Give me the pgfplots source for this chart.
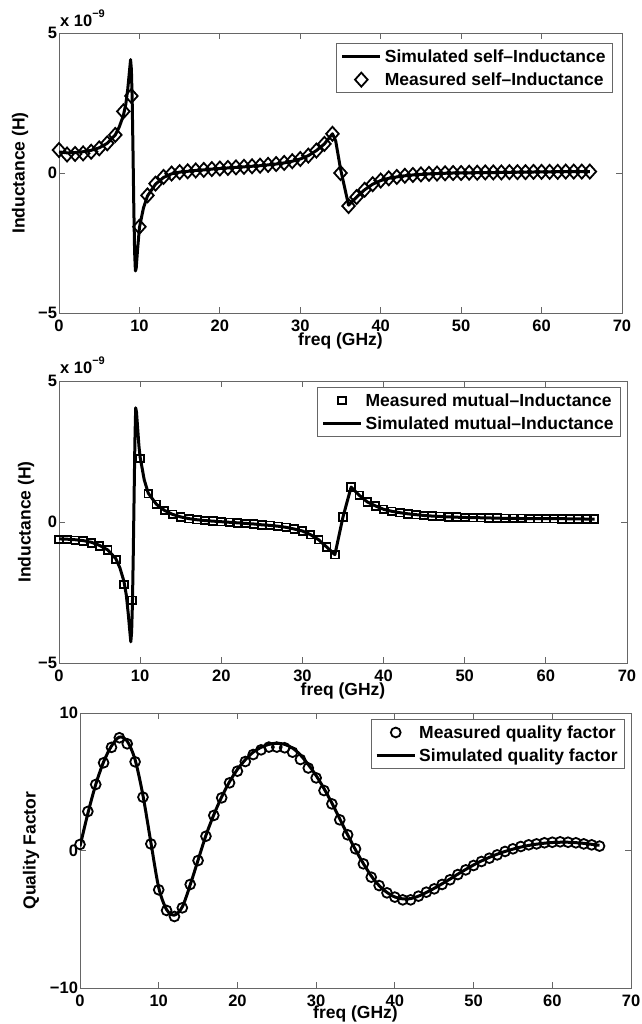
\documentclass[border=0pt]{standalone}
\usepackage{fontspec}
\setmainfont{Liberation Sans}
\usepackage{pgfplots}
\pgfplotsset{compat=1.18}
\definecolor{axgray}{gray}{0.4}

\pgfplotsset{
  matfig/.style={
    scale only axis,
    clip mode=individual,
    anchor=south west,
    xmin=0, xmax=70,
    xtick={0,10,...,70},
    xticklabels={0,10,20,30,40,50,60,70},
    tick align=inside,
    major tick length=6pt,
    axis line style={axgray, line width=0.8pt},
    tick style={axgray, line width=0.8pt},
    font=\bfseries\fontsize{17.5}{20}\selectfont,
    tick label style={font=\bfseries\fontsize{16.5}{19}\selectfont},
    x tick label style={yshift=-3pt},
    y tick label style={xshift=1.5pt},
    xlabel={freq (GHz)},
    xlabel style={at={(axis description cs:0.5,0)}, anchor=north, inner sep=0pt, yshift=-20pt},
    legend cell align=left,
    legend style={draw=axgray, line width=0.8pt, anchor=north east,
      inner xsep=4pt, inner ysep=2pt, row sep=1pt,
      nodes={inner xsep=3pt, inner ysep=4pt}},
  },
  simline/.style={black, line width=3pt, line join=round,
    legend image code/.code={\draw[##1] (0pt,0pt) -- (38pt,0pt);}},
  meas/.style={black, only marks, mark=#1, line width=1.8pt,
    legend image code/.code={\draw[mark repeat=2, mark phase=2, ##1] plot coordinates {(0pt,0pt) (19pt,0pt) (38pt,0pt)};}},
}

\begin{document}
\begin{tikzpicture}
\useasboundingbox (0pt,0pt) rectangle (641pt,1024pt);

% self inductance
\begin{axis}[matfig, at={(59pt,711pt)}, width=563pt, height=280pt,
  ymin=-5, ymax=5, ytick={-5,0,5}, yticklabels={−5,0,5},
  ylabel={Inductance (H)},
  ylabel style={at={(axis description cs:-0.0693,0.5)}, anchor=center, inner sep=0pt},
  legend style={at={(axis description cs:1,1)}, xshift=-9pt, yshift=-10pt}]
\addplot[simline] coordinates {
(0,0.75) (1,0.72) (2,0.73) (3,0.76) (4,0.81) (5,0.90) (6,1.06) (7,1.36)
(7.5,1.65) (8,2.05) (8.3,2.45) (8.55,3.0) (8.75,3.6) (8.9,4.05) (9.0,3.7)
(9.1,2.6) (9.2,0.8) (9.3,-1.2) (9.4,-2.8) (9.5,-3.5) (9.6,-3.4) (9.75,-2.8)
(10,-1.95) (10.5,-1.25) (11,-0.82) (12,-0.40) (13,-0.16) (14,-0.03) (15,0.03)
(16,0.06) (17,0.09) (18,0.11) (19,0.14) (20,0.16) (21,0.18) (22,0.20) (23,0.22)
(24,0.24) (25,0.26) (26,0.29) (27,0.32) (28,0.36) (29,0.42) (30,0.50) (31,0.62)
(32,0.80) (33,1.04) (34,1.40) (34.4,1.15) (35,0.15) (36,-1.15) (37,-0.86)
(38,-0.60) (39,-0.40) (40,-0.27) (41,-0.19) (42,-0.14) (43,-0.10) (44,-0.07)
(45,-0.05) (46,-0.03) (47,-0.02) (48,-0.01) (49,0.00) (50,0.00) (52,0.01)
(55,0.02) (58,0.03) (60,0.04) (63,0.05) (66,0.05)
};
\addlegendentry{Simulated self–Inductance}
\addplot[meas=diamond, mark size=7pt, mark options={xscale=1.2}] coordinates {
(0,0.82) (1,0.66) (2,0.68) (3,0.70) (4,0.76) (5,0.88) (6,1.06) (7,1.36)
(8,2.20) (9,2.75) (10,-1.92) (11,-0.80) (12,-0.38) (13,-0.14) (14,-0.02)
(15,0.03) (16,0.06) (17,0.09) (18,0.11) (19,0.14) (20,0.16) (21,0.18) (22,0.20)
(23,0.22) (24,0.24) (25,0.26) (26,0.29) (27,0.32) (28,0.36) (29,0.42) (30,0.50)
(31,0.62) (32,0.80) (33,1.04) (34,1.40) (35,0.00) (36,-1.18) (37,-0.86)
(38,-0.60) (39,-0.40) (40,-0.27) (41,-0.19) (42,-0.14) (43,-0.10) (44,-0.07)
(45,-0.05) (46,-0.03) (47,-0.02) (48,-0.01) (49,0.00) (50,0.00) (51,0.01)
(52,0.01) (53,0.02) (54,0.02) (55,0.02) (56,0.03) (57,0.03) (58,0.03) (59,0.04)
(60,0.04) (61,0.04) (62,0.04) (63,0.05) (64,0.05) (65,0.05) (66,0.05)
};
\addlegendentry{Measured self–Inductance}
\node[anchor=base west, inner sep=0pt, xshift=1pt, yshift=6pt, font=\bfseries\fontsize{16.5}{19}\selectfont]
  at (axis description cs:0,1) {x 10\raisebox{9pt}{\fontsize{11}{12}\selectfont −9}};
\end{axis}

% mutual inductance
\begin{axis}[matfig, at={(59pt,361pt)}, width=568pt, height=282pt,
  ymin=-5, ymax=5, ytick={-5,0,5}, yticklabels={−5,0,5},
  ylabel={Inductance (H)},
  ylabel style={at={(axis description cs:-0.0581,0.5)}, anchor=center, inner sep=0pt},
  legend style={at={(axis description cs:1,1)}, xshift=-6pt, yshift=-6pt}]
\addplot[meas=square, mark size=3.8pt] coordinates {
(0,-0.62) (1,-0.62) (2,-0.65) (3,-0.67) (4,-0.74) (5,-0.85) (6,-1.00) (7,-1.33)
(8,-2.22) (9,-2.78) (10,2.25) (11,1.00) (12,0.63) (13,0.41) (14,0.27) (15,0.18)
(16,0.12) (17,0.08) (18,0.05) (19,0.03) (20,0.01) (21,-0.01) (22,-0.03)
(23,-0.05) (24,-0.07) (25,-0.10) (26,-0.12) (27,-0.15) (28,-0.19) (29,-0.25)
(30,-0.32) (31,-0.45) (32,-0.63) (33,-0.89) (34,-1.16) (35,0.18) (36,1.24)
(37,0.95) (38,0.71) (39,0.57) (40,0.45) (41,0.38) (42,0.33) (43,0.29) (44,0.26)
(45,0.23) (46,0.21) (47,0.20) (48,0.18) (49,0.17) (50,0.16) (51,0.15) (52,0.15)
(53,0.14) (54,0.14) (55,0.13) (56,0.13) (57,0.13) (58,0.12) (59,0.12) (60,0.12)
(61,0.12) (62,0.11) (63,0.11) (64,0.11) (65,0.11) (66,0.10)
};
\addlegendentry{Measured mutual–Inductance}
\addplot[simline] coordinates {
(0,-0.60) (1,-0.61) (2,-0.63) (3,-0.66) (4,-0.72) (5,-0.83) (6,-0.99) (7,-1.30)
(7.5,-1.62) (8,-2.10) (8.3,-2.6) (8.55,-3.3) (8.75,-3.95) (8.85,-4.25)
(8.95,-3.9) (9.05,-2.9) (9.15,-1.2) (9.25,0.8) (9.35,2.8) (9.45,4.05)
(9.55,3.9) (9.7,3.3) (9.85,2.7) (10,2.3) (10.5,1.5) (11,1.02) (12,0.63)
(13,0.41) (14,0.27) (15,0.18) (16,0.12) (17,0.08) (18,0.05) (19,0.03) (20,0.01)
(21,-0.01) (22,-0.03) (23,-0.05) (24,-0.07) (25,-0.10) (26,-0.12) (27,-0.15)
(28,-0.19) (29,-0.25) (30,-0.32) (31,-0.45) (32,-0.63) (33,-0.89) (34,-1.16)
(35,0.18) (36,1.24) (37,0.95) (38,0.71) (39,0.57) (40,0.45) (41,0.38) (42,0.33)
(43,0.29) (44,0.26) (45,0.23) (46,0.21) (48,0.18) (50,0.16) (52,0.15) (55,0.13)
(58,0.12) (61,0.12) (64,0.11) (66,0.10)
};
\addlegendentry{Simulated mutual–Inductance}
\node[anchor=base west, inner sep=0pt, xshift=1pt, yshift=7pt, font=\bfseries\fontsize{16.5}{19}\selectfont]
  at (axis description cs:0,1) {x 10\raisebox{9pt}{\fontsize{11}{12}\selectfont −9}};
\end{axis}

% quality factor
\begin{axis}[matfig, at={(80pt,36pt)}, width=551pt, height=275pt,
  ymin=-10, ymax=10, ytick={-10,0,10}, yticklabels={−10,0,10},
  ylabel={Quality Factor},
  ylabel style={at={(axis description cs:-0.0889,0.5)}, anchor=center, inner sep=0pt},
  xlabel style={yshift=2pt},
  legend style={at={(axis description cs:1,1)}, xshift=-6pt, yshift=-6pt}]
\addplot[meas=o, mark size=4.9pt] coordinates {
(0,0.44) (1,2.84) (2,4.80) (3,6.38) (4,7.50) (5,8.20) (6,7.76) (7,6.45) (8,3.88)
(9,0.48) (10,-2.86) (11,-4.36) (12,-4.80) (13,-4.17) (14,-2.47) (15,-0.73)
(16,1.04) (17,2.55) (18,3.83) (19,4.92) (20,5.77) (21,6.47) (22,6.98) (23,7.32)
(24,7.52) (25,7.52) (26,7.47) (27,7.15) (28,6.62) (29,6.00) (30,5.28) (31,4.36)
(32,3.39) (33,2.23) (34,1.14) (35,0.12) (36,-0.97) (37,-1.94) (38,-2.55)
(39,-3.08) (40,-3.39) (41,-3.59) (42,-3.59) (43,-3.32) (44,-3.03) (45,-2.79)
(46,-2.47) (47,-2.13) (48,-1.75) (49,-1.41) (50,-1.09) (51,-0.80) (52,-0.56)
(53,-0.32) (54,-0.07) (55,0.12) (56,0.29) (57,0.41) (58,0.48) (59,0.56)
(60,0.60) (61,0.63) (62,0.60) (63,0.56) (64,0.48) (65,0.41) (66,0.32)
};
\addlegendentry{Measured quality factor}
\addplot[simline, smooth] coordinates {
(0,0.3) (1,2.7) (2,4.8) (3,6.45) (4,7.6) (5,8.25) (6,7.95) (7,6.6) (8,4.0)
(9,0.6) (10,-2.7) (11,-4.3) (12,-4.7) (13,-4.1) (14,-2.5) (15,-0.7) (16,1.1)
(17,2.6) (18,3.9) (19,5.0) (20,5.9) (21,6.6) (22,7.15) (23,7.5) (24,7.72)
(25,7.8) (26,7.72) (27,7.45) (28,6.95) (29,6.25) (30,5.45) (31,4.5) (32,3.45)
(33,2.3) (34,1.15) (35,0.05) (36,-0.95) (37,-1.85) (38,-2.55) (39,-3.05)
(40,-3.38) (41,-3.52) (42,-3.5) (43,-3.32) (44,-3.05) (45,-2.75) (46,-2.42)
(47,-2.08) (48,-1.72) (49,-1.38) (50,-1.05) (51,-0.76) (52,-0.5) (53,-0.27)
(54,-0.07) (55,0.1) (56,0.25) (57,0.37) (58,0.46) (59,0.53) (60,0.58) (61,0.6)
(62,0.6) (63,0.57) (64,0.52) (65,0.45) (66,0.38)
};
\addlegendentry{Simulated quality factor}
\end{axis}
\end{tikzpicture}
\end{document}
